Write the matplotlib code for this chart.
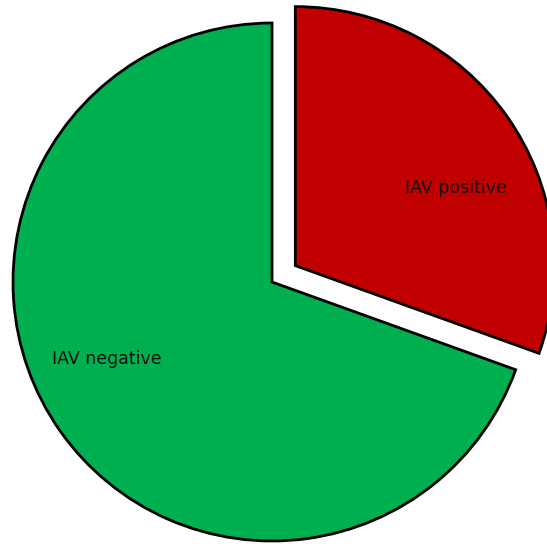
import matplotlib.pyplot as plt

labels = ['IAV positive', 'IAV negative']
values = [30.5, 69.5]
colors = ['#C00000', '#00B050']
explode = [0.11, 0.0]


def main():
    fig = plt.figure(figsize=(5.47, 5.44), dpi=100)
    ax = fig.add_axes([0, 0, 1, 1])
    ax.pie(values, labels=labels, colors=colors, explode=explode,
           startangle=90, counterclock=False, labeldistance=0.52,
           wedgeprops=dict(edgecolor='black', linewidth=2),
           textprops=dict(fontsize=12.5, color='#111111'))
    ax.set_xlim(-272 / 259, 275 / 259)
    ax.set_ylim(-262 / 259, 282 / 259)
    ax.set_aspect('equal')
    ax.axis('off')
    fig.savefig('out.png', dpi=100)


if __name__ == '__main__':
    main()
